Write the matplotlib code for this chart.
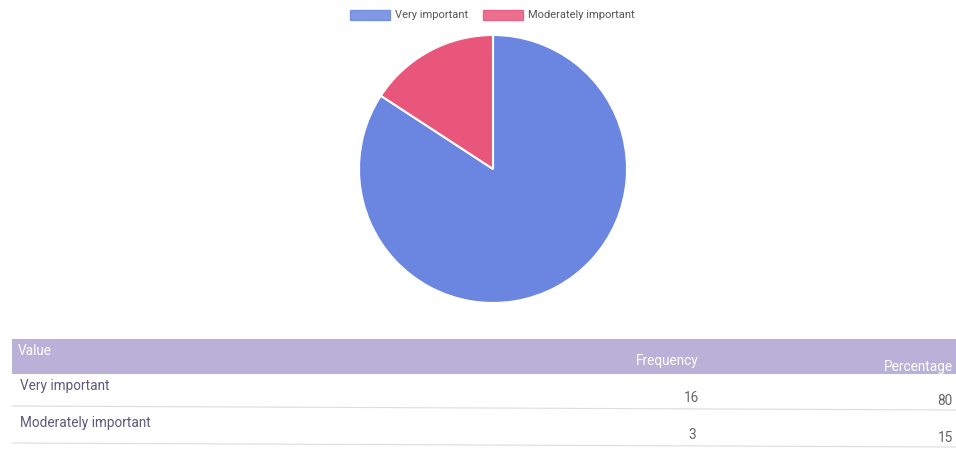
import matplotlib
matplotlib.use("Agg")
import matplotlib.pyplot as plt
from matplotlib.patches import Rectangle

categories = ["Very important", "Moderately important"]
frequency = [16, 3]
percentage = ["80", "15"]
colors = ["#6b86e0", "#e9567c"]
headers = ["Value", "Frequency", "Percentage"]

plt.rcParams['font.family'] = ['Roboto', 'DejaVu Sans']

W, H = 956, 451
fig = plt.figure(figsize=(W / 100, H / 100), dpi=100)
fig.patch.set_facecolor("white")

# overlay axes in pixel coordinates
ov = fig.add_axes([0, 0, 1, 1])
ov.set_xlim(0, W)
ov.set_ylim(H, 0)
ov.axis("off")

# pie
cx, cy, r = 493, 169, 134
pax = fig.add_axes([(cx - r) / W, (H - cy - r) / H, 2 * r / W, 2 * r / H])
pax.pie(frequency, colors=colors, startangle=90, counterclock=False,
        wedgeprops=dict(edgecolor="white", linewidth=1.5))
pax.set_xlim(-1, 1)
pax.set_ylim(-1, 1)
pax.set_aspect("equal")
pax.axis("off")

# legend
lx = [350, 483]
for i, (cat, col) in enumerate(zip(categories, colors)):
    ov.add_patch(Rectangle((lx[i], 10), 40, 10, facecolor=col, edgecolor=col, alpha=0.85))
    ov.text(lx[i] + 45, 15.5, cat, fontsize=8, color="#555555", va="center", ha="left")

# table header
fs = 9.8
ov.add_patch(Rectangle((12, 339), W - 12, 35, facecolor="#b9b1d8", edgecolor="none"))
ov.text(18, 351, headers[0], fontsize=fs, color="white", va="center", ha="left")
ov.text(667, 361, headers[1], fontsize=fs, color="white", va="center", ha="center")
ov.text(953, 367, headers[2], fontsize=fs, color="white", va="center", ha="right")

# rows
row_y = [386, 423]
line_y = [406, 443]
txt_col = "#5f587c"
for i, cat in enumerate(categories):
    ov.text(20, row_y[i], cat, fontsize=fs, color=txt_col, va="center", ha="left")
    ov.text(692, row_y[i] + 12, str(frequency[i]), fontsize=fs, color="#666666",
            va="center", ha="center")
    ov.text(953, row_y[i] + 15, percentage[i], fontsize=fs, color="#666666",
            va="center", ha="right")
    ov.plot([12, W], [line_y[i], line_y[i] + 4], color="#dddddd", linewidth=0.8)

fig.savefig("out.png", dpi=100)
